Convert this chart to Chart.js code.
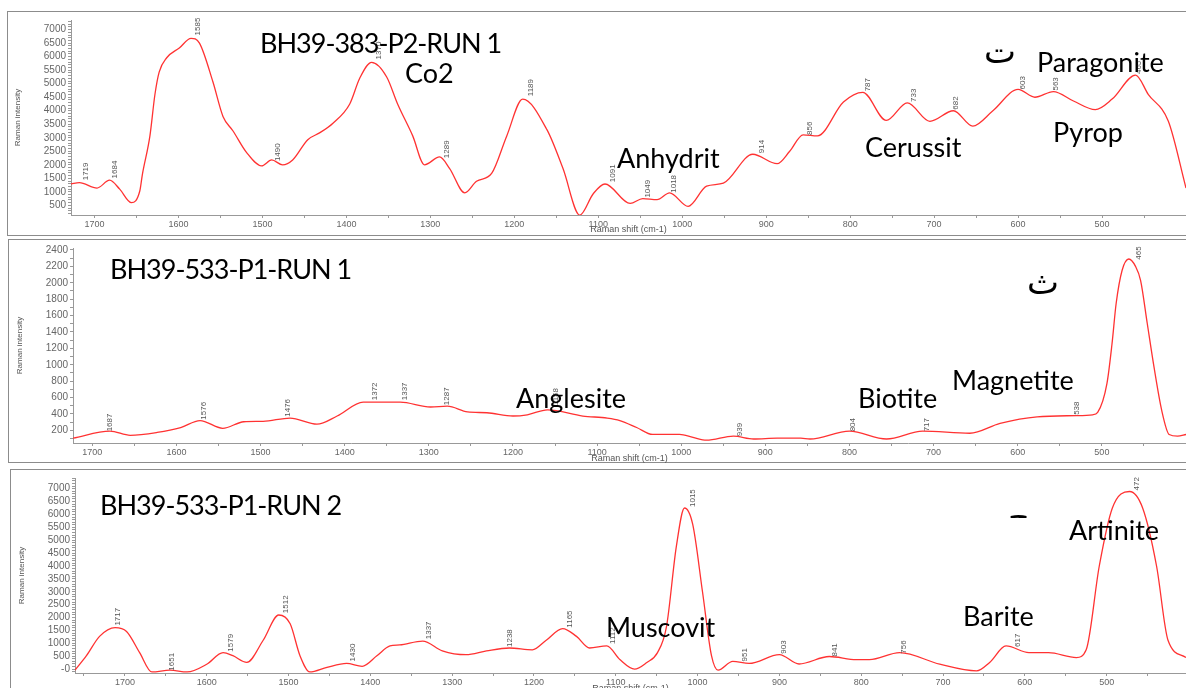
<!DOCTYPE html>
<html>
<head>
<meta charset="utf-8">
<script src="https://cdn.jsdelivr.net/npm/chart.js@4.4.1/dist/chart.umd.min.js"></script>
<style>
body { margin: 0; width: 1186px; height: 688px; overflow: hidden; background: #fff; position: relative; }
.box { position: absolute; border: 1px solid #8c8c8c; box-sizing: border-box; }
canvas { position: absolute; left: 0; }
.t { position: absolute; font-family: Lato, sans-serif; font-size: 27px; line-height: 27px; color: #000; white-space: nowrap; }
.bh { letter-spacing: -1px; }
.ar { position: absolute; font-family: "DejaVu Sans", sans-serif; font-size: 34px; line-height: 34px; color: #000; }
</style>
</head>
<body>
<div class="box" style="left:7px;top:11px;width:1200px;height:225px"></div>
<div class="box" style="left:8px;top:239px;width:1200px;height:224px"></div>
<div class="box" style="left:10px;top:469px;width:1200px;height:240px"></div>

<canvas id="c1" width="1186" height="224" style="top:12px"></canvas>
<canvas id="c2" width="1186" height="224" style="top:240px"></canvas>
<canvas id="c3" width="1186" height="224" style="top:470px"></canvas>

<div class="t bh" style="left:260px;top:29px">BH39-383-P2-RUN 1</div>
<div class="t" style="left:405px;top:59px">Co2</div>
<div class="t" style="left:617px;top:144px">Anhydrit</div>
<div class="t" style="left:865px;top:133px">Cerussit</div>
<div class="t" style="left:1037px;top:48px">Paragonite</div>
<div class="t" style="left:1053px;top:118px">Pyrop</div>
<div class="ar" style="left:984px;top:34px">ت</div>

<div class="t bh" style="left:110px;top:255px">BH39-533-P1-RUN 1</div>
<div class="t" style="left:516px;top:384px">Anglesite</div>
<div class="t" style="left:858px;top:384px">Biotite</div>
<div class="t" style="left:952px;top:366px">Magnetite</div>
<div class="ar" style="left:1027px;top:265px">ث</div>

<div class="t bh" style="left:100px;top:491px">BH39-533-P1-RUN 2</div>
<div class="t" style="left:606px;top:613px">Muscovit</div>
<div class="t" style="left:963px;top:602px">Barite</div>
<div class="t" style="left:1069px;top:516px">Artinite</div>
<div style="position:absolute;left:1008px;top:509px;width:24px;height:9px;overflow:hidden"><div class="ar" style="left:0;top:-9px">ج</div></div>

<script>
// BH39-383-P2-RUN 1
const shift1 = [1728, 1718, 1697, 1682, 1670, 1656, 1646, 1643, 1634, 1628, 1623, 1614, 1599, 1585, 1575, 1559, 1547, 1535, 1519, 1501, 1489, 1476, 1464, 1446, 1432, 1416, 1396, 1384, 1370, 1352, 1339, 1321, 1307, 1289, 1277, 1259, 1245, 1227, 1209, 1190, 1161, 1142, 1122, 1106, 1092, 1062, 1047, 1030, 1015, 993, 971, 951, 916, 887, 872, 856, 839, 808, 785, 757, 732, 705, 677, 654, 630, 600, 580, 558, 534, 508, 488, 460, 445, 421, 400]
const int1 = [1290, 1340, 1140, 1430, 1100, 600, 1040, 1640, 3070, 4610, 5430, 5960, 6320, 6680, 6500, 5070, 3790, 3250, 2460, 1960, 2180, 2000, 2180, 2930, 3180, 3540, 4250, 5210, 5790, 5250, 4250, 3070, 2000, 2290, 1860, 960, 1390, 1680, 3070, 4430, 3290, 1860, 140, 930, 1290, 570, 750, 710, 960, 460, 1210, 1320, 2390, 2040, 2500, 3110, 3070, 4320, 4680, 3640, 4290, 3610, 4000, 3430, 4000, 4790, 4500, 4710, 4360, 4040, 4430, 5320, 4610, 3610, 1140]
const peaks1 = [1719, 1684, 1585, 1490, 1370, 1289, 1189, 1091, 1049, 1018, 914, 856, 787, 733, 682, 603, 563, 465]
const peakInt1 = [1390, 1460, 6750, 2100, 5860, 2210, 4500, 1320, 750, 930, 2390, 3070, 4680, 4290, 4000, 4750, 4710, 5320]

// BH39-533-P1-RUN 1
const shift2 = [1723, 1679, 1655, 1623, 1595, 1572, 1545, 1520, 1497, 1465, 1433, 1409, 1378, 1361, 1334, 1298, 1278, 1254, 1231, 1200, 1183, 1159, 1117, 1088, 1073, 1053, 1034, 1002, 986, 970, 938, 914, 886, 858, 847, 800, 756, 713, 657, 621, 577, 530, 511, 505, 494, 488, 483, 476, 468, 460, 454, 446, 438, 429, 420, 410, 400]
const int2 = [105, 190, 140, 175, 235, 320, 225, 305, 310, 350, 275, 375, 545, 545, 545, 485, 495, 425, 415, 375, 390, 450, 375, 350, 320, 235, 150, 150, 115, 80, 130, 95, 105, 105, 95, 190, 95, 190, 165, 285, 365, 380, 390, 420, 770, 1250, 1750, 2150, 2290, 2200, 2030, 1500, 970, 450, 150, 130, 150]
const peaks2 = [1687, 1576, 1476, 1372, 1337, 1287, 1158, 939, 804, 717, 538, 465]
const peakInt2 = [176, 318, 354, 555, 555, 495, 495, 117, 176, 176, 377, 2270]

// BH39-533-P1-RUN 2
const shift3 = [1761, 1747, 1731, 1712, 1698, 1682, 1667, 1645, 1624, 1600, 1580, 1568, 1551, 1531, 1512, 1498, 1486, 1474, 1453, 1429, 1410, 1392, 1376, 1364, 1336, 1312, 1283, 1258, 1230, 1202, 1185, 1165, 1148, 1132, 1111, 1095, 1077, 1062, 1049, 1038, 1026, 1016, 1006, 994, 983, 975, 957, 937, 900, 876, 839, 806, 790, 753, 704, 659, 643, 623, 595, 571, 537, 525, 509, 493, 472, 456, 439, 425, 403]
const int3 = [-40, 520, 1270, 1610, 1460, 640, -110, -40, -110, 190, 640, 520, 260, 1120, 2100, 1760, 520, -110, 70, 220, 110, 520, 900, 940, 1090, 710, 560, 710, 820, 750, 1120, 1570, 1270, 820, 900, 370, 0, 260, 640, 1650, 4750, 6250, 5620, 3000, 520, -40, 300, 220, 560, 200, 490, 370, 370, 640, 190, -70, 260, 900, 640, 640, 450, 750, 4000, 6250, 6890, 6250, 4000, 1120, 450]
const peaks3 = [1717, 1651, 1579, 1512, 1430, 1337, 1238, 1165, 1112, 1015, 951, 903, 841, 756, 617, 472]
const peakInt3 = [1650, -100, 640, 2130, 260, 1120, 820, 1570, 940, 6250, 260, 560, 450, 560, 820, 6890]

// small rotated peak numbers next to each peak
const peakLabels = {
    id: 'peakLabels',
    afterDatasetsDraw(chart, args, opts) {
        const ctx = chart.ctx
        const xs = chart.scales.x, ys = chart.scales.y
        ctx.save()
        ctx.font = '8px "Liberation Sans Narrow", "Liberation Sans", sans-serif'
        ctx.fillStyle = '#555'
        ctx.textAlign = 'left'
        ctx.textBaseline = 'middle'
        opts.pos.forEach((p, i) => {
            ctx.save()
            ctx.translate(xs.getPixelForValue(p) + 7, ys.getPixelForValue(opts.val[i]) - 1)
            ctx.rotate(-Math.PI / 2)
            ctx.fillText(String(p), 0, 0)
            ctx.restore()
        })
        ctx.restore()
    }
}

// evenly spaced ticks inside the axis range, no extra ticks at min/max
const stepTicks = step => s => {
    const t = []
    for (let v = Math.ceil(s.min / step) * step; v <= s.max; v += step) t.push({ value: v })
    s.ticks = t
}

function panel(id, shift, inten, pos, val, xr, yr, yLabelEvery, yLeft, padTop, titlePad) {
    const gridOpts = { drawOnChartArea: false, drawTicks: true, tickLength: 3, color: '#999' }
    return new Chart(document.getElementById(id), {
        type: 'line',
        data: {
            datasets: [{
                data: shift.map((s, i) => ({ x: s, y: inten[i] })),
                borderColor: 'rgb(255, 50, 50)',
                borderWidth: 1.3,
                pointRadius: 0,
                cubicInterpolationMode: 'monotone',
                fill: false
            }]
        },
        options: {
            responsive: false,
            animation: false,
            layout: { padding: { top: padTop, right: 0, left: 0, bottom: 0 } },
            plugins: {
                legend: { display: false },
                tooltip: { enabled: false },
                peakLabels: { pos, val }
            },
            scales: {
                x: {
                    type: 'linear',
                    reverse: true,
                    min: xr[0], max: xr[1],
                    afterFit: s => { s.height = 21 },
                    afterBuildTicks: stepTicks(50),
                    grid: gridOpts,
                    border: { color: '#999' },
                    ticks: {
                        autoSkip: false, maxRotation: 0, padding: 1,
                        color: '#666', font: { size: 9, family: '"Liberation Sans", Arial' },
                        callback: v => (v % 100 === 0 && v >= 500 && v <= 1700) ? String(v) : ''
                    },
                    title: {
                        display: true, text: 'Raman shift (cm-1)', color: '#555',
                        font: { size: 9, family: '"Liberation Sans", Arial' },
                        padding: { top: 0, bottom: titlePad }
                    }
                },
                y: {
                    min: yr[0], max: yr[1],
                    afterFit: s => { s.width = yLeft },
                    afterBuildTicks: stepTicks(100),
                    grid: gridOpts,
                    border: { color: '#999' },
                    ticks: {
                        autoSkip: false, padding: 2,
                        color: '#666', font: { size: 10, family: '"Liberation Sans", Arial' },
                        callback: v => v % yLabelEvery === 0 ? (v === 0 ? '-0' : String(v)) : ''
                    },
                    title: {
                        display: true, text: 'Raman intensity', color: '#555',
                        font: { size: 8, family: '"Liberation Sans Narrow", "Liberation Sans"' },
                        padding: { top: yLeft - 58, bottom: 0 }
                    }
                }
            }
        },
        plugins: [peakLabels]
    })
}

panel('c1', shift1, int1, peaks1, peakInt1, [400, 1728], [143, 7357], 500, 71, 1, 1)
panel('c2', shift2, int2, peaks2, peakInt2, [400, 1723], [46, 2424], 200, 73, 2, 0)
panel('c3', shift3, int3, peaks3, peakInt3, [403, 1761], [-150, 7413], 500, 75, 1, 0)
</script>
</body>
</html>
